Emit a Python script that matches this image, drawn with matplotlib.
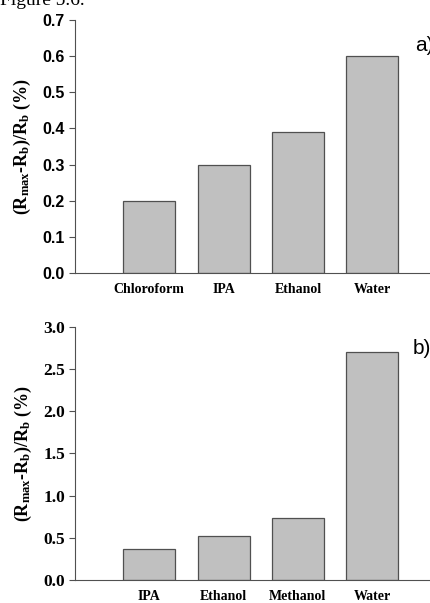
import matplotlib
matplotlib.use("Agg")
import matplotlib.pyplot as plt

# panel a
solvents_a = ["Chloroform", "IPA", "Ethanol", "Water"]
change_a = [0.20, 0.30, 0.39, 0.60]
yticks_a = [0.0, 0.1, 0.2, 0.3, 0.4, 0.5, 0.6, 0.7]

# panel b
solvents_b = ["IPA", "Ethanol", "Methanol", "Water"]
change_b = [0.37, 0.52, 0.74, 2.70]
yticks_b = [0.0, 0.5, 1.0, 1.5, 2.0, 2.5, 3.0]

plt.rcParams['mathtext.fontset'] = 'custom'
plt.rcParams['mathtext.rm'] = 'Liberation Serif:bold'
plt.rcParams['mathtext.bf'] = 'Liberation Serif:bold'
plt.rcParams['mathtext.default'] = 'rm'

ylabel = r'(R$_{\rm max}$-R$_{\rm b}$)/R$_{\rm b}$ (%)'
serif = 'Liberation Serif'
sans = 'Liberation Sans'

fig = plt.figure(figsize=(4.3, 6.03), dpi=100)
ax_a = fig.add_axes([0.174, 0.547, 0.83, 0.420])
ax_b = fig.add_axes([0.174, 0.038, 0.83, 0.420])


def style_panel(ax, names, vals, ticks, tick_font, tick_size):
    x = range(len(names))
    ax.bar(x, vals, width=0.7, color='#c0c0c0', edgecolor='#505050', linewidth=0.9)
    ax.set_xlim(-1.0, 3.8)
    ax.set_ylim(ticks[0], ticks[-1])
    ax.set_yticks(ticks)
    ax.set_yticklabels(['{:.1f}'.format(t) for t in ticks], family=tick_font,
                       fontweight='bold', fontsize=tick_size)
    ax.set_xticks(list(x))
    ax.set_xticklabels(names, family=serif, fontweight='bold', fontsize=10)
    ax.tick_params(axis='x', length=0, pad=7)
    ax.tick_params(axis='y', length=4, width=0.8, color='#505050', pad=3)
    for s in ['top', 'right']:
        ax.spines[s].set_visible(False)
    for s in ['left', 'bottom']:
        ax.spines[s].set_color('#505050')
        ax.spines[s].set_linewidth(0.8)
    ax.set_ylabel(ylabel, family=serif, fontweight='bold', fontsize=13, labelpad=7)


style_panel(ax_a, solvents_a, change_a, yticks_a, sans, 11.5)
style_panel(ax_b, solvents_b, change_b, yticks_b, serif, 12.5)

fig.text(0.965, 0.925, 'a)', family=sans, fontsize=15, va='center')
fig.text(0.960, 0.422, 'b)', family=sans, fontsize=15, va='center')
fig.text(0.0, 0.992, 'Figure 5.6.', family=serif, fontsize=14, va='baseline')

fig.savefig('out.png', dpi=100)
